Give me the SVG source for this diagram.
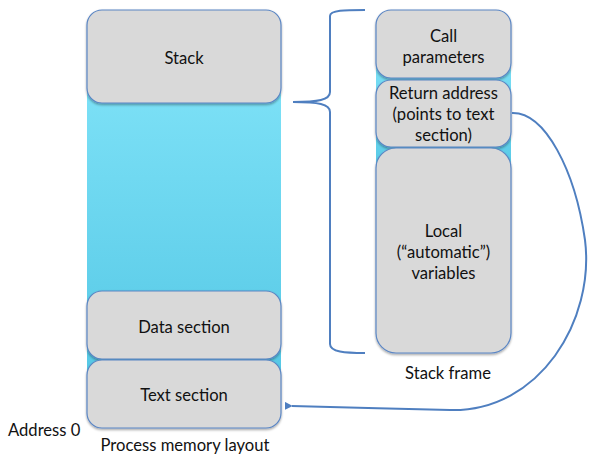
<svg xmlns="http://www.w3.org/2000/svg" width="595" height="459" viewBox="0 0 595 459">
<defs>
<linearGradient id="cyan" x1="0" y1="0" x2="0" y2="1">
<stop offset="0" stop-color="#80e3f8"/>
<stop offset="1" stop-color="#52c6e4"/>
</linearGradient>
<filter id="sh" x="-10%" y="-10%" width="120%" height="130%">
<feDropShadow dx="0" dy="1.5" stdDeviation="1.2" flood-color="#000" flood-opacity="0.35"/>
</filter>
<marker id="arr" viewBox="0 0 10 10" refX="1" refY="5" markerWidth="8" markerHeight="8" orient="auto-start-reverse" markerUnits="userSpaceOnUse">
<path d="M10,0 L0,5 L10,10 Z" fill="#4f7fc0"/>
</marker>
</defs>
<style>
.box{fill:#d9d9d9;stroke:#5b86c4;stroke-width:1.2;filter:url(#sh)}
.bg{fill:url(#cyan)}
text{font-family:Lato,"Liberation Sans",sans-serif;font-size:16.6px;fill:#111;text-anchor:middle}
.line{fill:none;stroke:#4f7fc0;stroke-width:2}
</style>
<rect class="bg" x="87" y="60" width="194" height="340"/>
<rect class="bg" x="376" y="40" width="135" height="150"/>
<g id="stack"><rect class="box" x="87" y="10" width="194" height="93" rx="15"/><text x="184" y="64">Stack</text></g>
<g id="data"><rect class="box" x="87" y="291" width="194" height="68" rx="15"/><text x="184" y="333">Data section</text></g>
<g id="text"><rect class="box" x="87" y="360" width="194" height="68" rx="15"/><text x="184" y="401">Text section</text></g>
<g id="callparams"><rect class="box" x="376" y="10" width="135" height="68" rx="15"/><text x="443.5" y="42">Call</text><text x="443.5" y="63">parameters</text></g>
<g id="retaddr"><rect class="box" x="376" y="80" width="135" height="67" rx="15"/><text x="443.5" y="99">Return address</text><text x="443.5" y="120">(points to text</text><text x="443.5" y="141">section)</text></g>
<g id="locals"><rect class="box" x="376" y="148" width="135" height="205" rx="20"/><text x="443.5" y="237">Local</text><text x="443.5" y="258">(“automatic”)</text><text x="443.5" y="279">variables</text></g>
<g id="labels">
<text x="8" y="436" style="text-anchor:start">Address 0</text>
<text x="185" y="451">Process memory layout</text>
<text x="448" y="379">Stack frame</text>
</g>
<g id="connectors">
<path class="line" d="M365,10 C345,10 330,10 330,16 L330,92 C330,100 318,102 293,102 C318,102 330,104 330,112 L330,344 C330,352 345,353 365,353"/>
<path class="line" marker-end="url(#arr)" d="M512,113 C545,112 575,170 585,240 C595,320 540,412 450,410 C400,409 340,407 292,406"/>
</g>
</svg>
